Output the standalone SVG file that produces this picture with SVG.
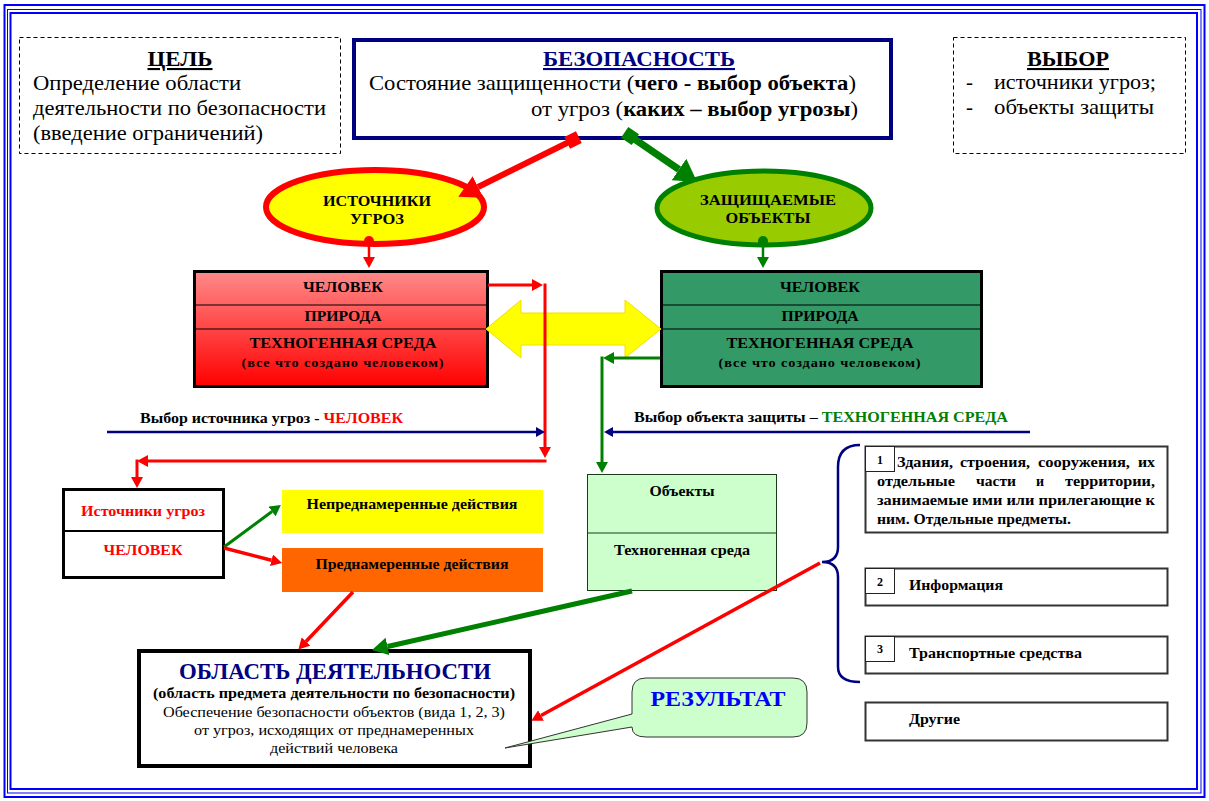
<svg xmlns="http://www.w3.org/2000/svg" width="1209" height="801" viewBox="0 0 1209 801">
<style>
text{font-family:'Liberation Serif','Tinos','Times New Roman','Noto Serif','DejaVu Serif','FreeSerif','PT Serif','Nimbus Roman','Times',serif;fill:#000}
.b{font-weight:bold}
.h{font-size:21px}
.m{font-size:15px;font-weight:bold}
.s{font-size:14px;font-weight:bold}
.u{text-decoration:underline}
.c{text-anchor:middle}
.dash{fill:#fff;stroke:#000;stroke-width:1;stroke-dasharray:4 3}
.box{stroke:#000;stroke-width:3}
.lst{fill:#fff;stroke:#333;stroke-width:2}
.num{fill:#fff;stroke:#222;stroke-width:1}
.rd{stroke:#ff0000;fill:none}
.gr{stroke:#008000;fill:none}
.nv{stroke:#000080;fill:none}
</style>
<defs>
<linearGradient id="redg" x1="0" y1="0" x2="0" y2="1">
<stop offset="0" stop-color="#ff8a8a"/>
<stop offset="1" stop-color="#ff0000"/>
</linearGradient>
<marker id="aR" markerUnits="userSpaceOnUse" viewBox="0 -6 11 12" refX="0" refY="0" markerWidth="11" markerHeight="12" orient="auto"><path d="M0,-6 L11,0 L0,6 z" fill="#ff0000"/></marker>
<marker id="aG" markerUnits="userSpaceOnUse" viewBox="0 -6 11 12" refX="0" refY="0" markerWidth="11" markerHeight="12" orient="auto"><path d="M0,-6 L11,0 L0,6 z" fill="#008000"/></marker>
<marker id="aN" markerUnits="userSpaceOnUse" viewBox="0 -5 9 10" refX="0" refY="0" markerWidth="9" markerHeight="10" orient="auto"><path d="M0,-5 L9,0 L0,5 z" fill="#000080"/></marker>
<marker id="aRL" markerUnits="userSpaceOnUse" viewBox="0 -12 22 24" refX="0" refY="0" markerWidth="22" markerHeight="24" orient="auto"><path d="M0,-12 L22,0 L0,12 z" fill="#ff0000"/></marker>
<marker id="aGL" markerUnits="userSpaceOnUse" viewBox="0 -13 22 26" refX="0" refY="0" markerWidth="22" markerHeight="26" orient="auto"><path d="M0,-13 L22,0 L0,13 z" fill="#008000"/></marker>
<marker id="aGM" markerUnits="userSpaceOnUse" viewBox="0 -9 16 18" refX="0" refY="0" markerWidth="16" markerHeight="18" orient="auto"><path d="M0,-9 L16,0 L0,9 z" fill="#008000"/></marker>
<marker id="sR" markerUnits="userSpaceOnUse" viewBox="-7 -7 14 14" refX="0" refY="0" markerWidth="14" markerHeight="14" orient="auto"><rect x="-6.5" y="-6.5" width="13" height="13" fill="#ff0000"/></marker>
<marker id="sG" markerUnits="userSpaceOnUse" viewBox="-7 -7 14 14" refX="0" refY="0" markerWidth="14" markerHeight="14" orient="auto"><rect x="-6.5" y="-6.5" width="13" height="13" fill="#008000"/></marker>
</defs>
<rect width="1209" height="801" fill="#fff"/>
<g id="frame" fill="none" stroke="#0000ff">
<rect x="4.5" y="5" width="1200" height="792" stroke-width="2"/>
<rect x="7.5" y="9.5" width="1193.5" height="783.5" stroke-width="1"/>
<rect x="10.5" y="13" width="1186.5" height="776" stroke-width="2"/>
</g>

<g id="goal">
<rect class="dash" x="19.5" y="37.5" width="321" height="116"/>
<text class="h b u c" x="180" y="66" textLength="65" lengthAdjust="spacingAndGlyphs">ЦЕЛЬ</text>
<text class="h" x="33" y="90" textLength="208" lengthAdjust="spacingAndGlyphs">Определение области</text>
<text class="h" x="33" y="115" textLength="293" lengthAdjust="spacingAndGlyphs">деятельности по безопасности</text>
<text class="h" x="33" y="140" textLength="230" lengthAdjust="spacingAndGlyphs">(введение ограничений)</text>
</g>

<g id="security">
<rect x="354" y="40" width="537" height="98" fill="#fff" stroke="#000080" stroke-width="4"/>
<text class="h b u c" x="639" y="66" style="fill:#000080" textLength="192" lengthAdjust="spacingAndGlyphs">БЕЗОПАСНОСТЬ</text>
<text class="h" x="369" y="90" textLength="487" lengthAdjust="spacingAndGlyphs">Состояние защищенности (<tspan class="b">чего - выбор объекта</tspan>)</text>
<text class="h" x="531" y="116" textLength="327" lengthAdjust="spacingAndGlyphs">от угроз (<tspan class="b">каких – выбор угрозы</tspan>)</text>
</g>

<g id="choice">
<rect class="dash" x="953.5" y="37.5" width="232" height="116"/>
<text class="h b u c" x="1068" y="66" textLength="82" lengthAdjust="spacingAndGlyphs">ВЫБОР</text>
<text class="h" x="966" y="89">-</text>
<text class="h" x="994" y="89" textLength="162" lengthAdjust="spacingAndGlyphs">источники угроз;</text>
<text class="h" x="966" y="114">-</text>
<text class="h" x="994" y="114" textLength="160" lengthAdjust="spacingAndGlyphs">объекты защиты</text>
</g>

<g id="threat-sources">
<ellipse cx="375" cy="207" rx="109" ry="37" fill="#ffff00" stroke="#ff0000" stroke-width="6"/>
<text class="m c" x="377" y="206" textLength="108" lengthAdjust="spacingAndGlyphs">ИСТОЧНИКИ</text>
<text class="m c" x="377" y="224" textLength="54" lengthAdjust="spacingAndGlyphs">УГРОЗ</text>
</g>

<g id="protected-objects">
<ellipse cx="764" cy="208" rx="107" ry="37" fill="#99cc00" stroke="#008000" stroke-width="5"/>
<text class="m c" x="768" y="205" textLength="136" lengthAdjust="spacingAndGlyphs">ЗАЩИЩАЕМЫЕ</text>
<text class="m c" x="768" y="223" textLength="85" lengthAdjust="spacingAndGlyphs">ОБЪЕКТЫ</text>
</g>

<g id="red-box">
<rect class="box" x="194.5" y="271.5" width="293" height="115" fill="url(#redg)"/>
<line x1="194" y1="305" x2="488" y2="305" stroke="#000" stroke-width="1"/>
<line x1="194" y1="329" x2="488" y2="329" stroke="#000" stroke-width="1"/>
<text class="m c" x="343" y="292" textLength="80" lengthAdjust="spacingAndGlyphs">ЧЕЛОВЕК</text>
<text class="m c" x="343" y="321" textLength="77" lengthAdjust="spacingAndGlyphs">ПРИРОДА</text>
<text class="m c" x="343" y="348" textLength="187" lengthAdjust="spacingAndGlyphs">ТЕХНОГЕННАЯ СРЕДА</text>
<text class="b c" x="343" y="367" style="font-size:13px;letter-spacing:0.8px" textLength="203" lengthAdjust="spacingAndGlyphs">(все что создано человеком)</text>
</g>

<g id="green-box">
<rect class="box" x="661.5" y="271.5" width="320" height="115" fill="#339966"/>
<line x1="661" y1="305" x2="982" y2="305" stroke="#000" stroke-width="1"/>
<line x1="661" y1="329" x2="982" y2="329" stroke="#000" stroke-width="1"/>
<text class="m c" x="820" y="292" textLength="80" lengthAdjust="spacingAndGlyphs">ЧЕЛОВЕК</text>
<text class="m c" x="820" y="321" textLength="77" lengthAdjust="spacingAndGlyphs">ПРИРОДА</text>
<text class="m c" x="820" y="348" textLength="187" lengthAdjust="spacingAndGlyphs">ТЕХНОГЕННАЯ СРЕДА</text>
<text class="b c" x="820" y="367" style="font-size:13px;letter-spacing:0.8px" textLength="203" lengthAdjust="spacingAndGlyphs">(все что создано человеком)</text>
</g>

<g id="human-sources">
<rect class="box" x="63.5" y="489.5" width="160" height="88" fill="#fff"/>
<line x1="63" y1="531" x2="224" y2="531" stroke="#000" stroke-width="2"/>
<text class="s c" x="143" y="516" style="fill:#ff0000" textLength="124" lengthAdjust="spacingAndGlyphs">Источники угроз</text>
<text class="m c" x="143" y="555" style="fill:#ff0000" textLength="79" lengthAdjust="spacingAndGlyphs">ЧЕЛОВЕК</text>
</g>

<g id="unintended">
<rect x="282" y="490" width="261" height="43" fill="#ffff00"/>
<text class="s c" x="412" y="509" textLength="211" lengthAdjust="spacingAndGlyphs">Непреднамеренные действия</text>
</g>

<g id="intended">
<rect x="282" y="548" width="261" height="44" fill="#ff6600"/>
<text class="s c" x="412" y="569" textLength="193" lengthAdjust="spacingAndGlyphs">Преднамеренные действия</text>
</g>

<g id="objects">
<rect x="587.5" y="474.5" width="189" height="116" fill="#ccffcc" stroke="#1a3a1a" stroke-width="1"/>
<line x1="587" y1="533" x2="777" y2="533" stroke="#1a3a1a" stroke-width="1"/>
<text class="s c" x="682" y="496" textLength="65" lengthAdjust="spacingAndGlyphs">Объекты</text>
<text class="s c" x="682" y="555" textLength="136" lengthAdjust="spacingAndGlyphs">Техногенная среда</text>
</g>

<g id="list-1">
<rect class="lst" x="865.5" y="446.5" width="302" height="86"/>
<rect class="num" x="865.5" y="446.5" width="29" height="25"/>
<text class="b c" x="880" y="464" style="font-size:12px">1</text>
<text class="s" y="467"><tspan x="897" textLength="56" lengthAdjust="spacingAndGlyphs">Здания,</tspan><tspan x="960" textLength="70" lengthAdjust="spacingAndGlyphs">строения,</tspan><tspan x="1038" textLength="92" lengthAdjust="spacingAndGlyphs">сооружения,</tspan><tspan x="1138" textLength="17" lengthAdjust="spacingAndGlyphs">их</tspan></text>
<text class="s" y="486"><tspan x="877" textLength="78" lengthAdjust="spacingAndGlyphs">отдельные</tspan><tspan x="976" textLength="40" lengthAdjust="spacingAndGlyphs">части</tspan><tspan x="1036">и</tspan><tspan x="1065" textLength="90" lengthAdjust="spacingAndGlyphs">территории,</tspan></text>
<text class="s" x="877" y="505" textLength="278" lengthAdjust="spacingAndGlyphs">занимаемые ими или прилегающие к</text>
<text class="s" x="877" y="524" textLength="194" lengthAdjust="spacingAndGlyphs">ним. Отдельные предметы.</text>
</g>
<g id="list-2">
<rect class="lst" x="865.5" y="568.5" width="302" height="37"/>
<rect class="num" x="865.5" y="568.5" width="29" height="25"/>
<text class="b c" x="880" y="586" style="font-size:12px">2</text>
<text class="s" x="909" y="590" textLength="94" lengthAdjust="spacingAndGlyphs">Информация</text>
</g>
<g id="list-3">
<rect class="lst" x="865.5" y="636.5" width="302" height="37"/>
<rect class="num" x="865.5" y="636.5" width="29" height="25"/>
<text class="b c" x="880" y="653" style="font-size:12px">3</text>
<text class="s" x="909" y="658" textLength="173" lengthAdjust="spacingAndGlyphs">Транспортные средства</text>
</g>
<g id="list-other">
<rect class="lst" x="865.5" y="702.5" width="302" height="38"/>
<text class="s" x="909" y="724" textLength="51" lengthAdjust="spacingAndGlyphs">Другие</text>
</g>

<g id="activity-area">
<rect x="139" y="651" width="391" height="115" fill="#fff" stroke="#000" stroke-width="4"/>
<text class="b c" x="335" y="679" style="font-size:23px;fill:#000080" textLength="312" lengthAdjust="spacingAndGlyphs">ОБЛАСТЬ ДЕЯТЕЛЬНОСТИ</text>
<text class="s c" x="334" y="698" textLength="362" lengthAdjust="spacingAndGlyphs">(область предмета деятельности по безопасности)</text>
<text class="c" x="334" y="717" style="font-size:14px" textLength="342" lengthAdjust="spacingAndGlyphs">Обеспечение безопасности объектов (вида 1, 2, 3)</text>
<text class="c" x="334" y="735" style="font-size:14px" textLength="280" lengthAdjust="spacingAndGlyphs">от угроз, исходящих от преднамеренных</text>
<text class="c" x="334" y="753" style="font-size:14px" textLength="128" lengthAdjust="spacingAndGlyphs">действий человека</text>
</g>

<g id="result">
<path d="M646,678 H793 Q807,678 807,692 V723 Q807,737 793,737 H646 Q632,737 632,727 L505,748 L632,714 V692 Q632,678 646,678 Z" fill="#ccffcc" stroke="#333" stroke-width="1"/>
<text class="b c" x="718" y="706" style="font-size:21px;fill:#0000ff" textLength="135" lengthAdjust="spacingAndGlyphs">РЕЗУЛЬТАТ</text>
</g>

<g id="labels">
<text class="s" x="140" y="423" textLength="263" lengthAdjust="spacingAndGlyphs">Выбор источника угроз - <tspan style="fill:#ff0000">ЧЕЛОВЕК</tspan></text>
<text class="s" x="634" y="422" textLength="374" lengthAdjust="spacingAndGlyphs">Выбор объекта защиты – <tspan style="fill:#008000">ТЕХНОГЕННАЯ СРЕДА</tspan></text>
</g>

<g id="connectors">
<polygon points="486,329 521,300 521,313 625,313 625,300 661,329 625,358 625,345 521,345 521,358" fill="#ffff00" stroke="#f0e000" stroke-width="1"/>
<line class="rd" x1="573" y1="140" x2="478" y2="187" stroke-width="6" marker-start="url(#sR)" marker-end="url(#aRL)"/>
<line class="gr" x1="630" y1="136" x2="679" y2="169.5" stroke-width="7" marker-start="url(#sG)" marker-end="url(#aGL)"/>
<circle cx="369" cy="241" r="5" fill="#ff0000"/>
<line class="rd" x1="369" y1="241" x2="369" y2="257" stroke-width="2.5" marker-end="url(#aR)"/>
<circle cx="763" cy="241" r="5" fill="#008000"/>
<line class="gr" x1="763" y1="241" x2="763" y2="257" stroke-width="2.5" marker-end="url(#aG)"/>
<line class="rd" x1="488" y1="285" x2="532" y2="285" stroke-width="3" marker-end="url(#aR)"/>
<line class="rd" x1="545" y1="283.5" x2="545" y2="447" stroke-width="3" marker-end="url(#aR)"/>
<line class="rd" x1="546.5" y1="461" x2="148" y2="461" stroke-width="3" marker-end="url(#aR)"/>
<line class="rd" x1="137" y1="459.5" x2="137" y2="477" stroke-width="3" marker-end="url(#aR)"/>
<line class="nv" x1="107" y1="432" x2="536" y2="432" stroke-width="2.5" marker-end="url(#aN)"/>
<line class="nv" x1="1030" y1="432" x2="613" y2="432" stroke-width="2.5" marker-end="url(#aN)"/>
<line class="gr" x1="660" y1="358" x2="614" y2="358" stroke-width="3" marker-end="url(#aG)"/>
<line class="gr" x1="602" y1="356.5" x2="602" y2="462" stroke-width="3" marker-end="url(#aG)"/>
<line class="gr" x1="224" y1="547" x2="272" y2="511.5" stroke-width="3" marker-end="url(#aG)"/>
<line class="rd" x1="224" y1="548" x2="271.5" y2="560.3" stroke-width="3.5" marker-end="url(#aR)"/>
<line class="rd" x1="353" y1="592" x2="306" y2="641.5" stroke-width="3.5" marker-end="url(#aR)"/>
<line class="gr" x1="632" y1="591" x2="387.6" y2="646.5" stroke-width="5" marker-end="url(#aGM)"/>
<line class="rd" x1="820" y1="563" x2="541" y2="715.5" stroke-width="3.5" marker-end="url(#aR)"/>
<path class="nv" d="M860,445 Q838,445 838,467 V547 Q838,562 822,562 Q838,562 838,577 V667 Q838,682 860,682" stroke-width="2.5"/>
</g>
</svg>
